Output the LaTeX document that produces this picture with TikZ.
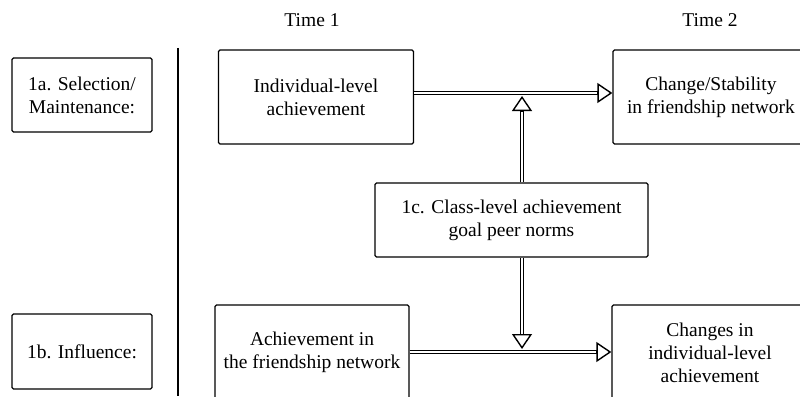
\documentclass[tikz,border=0pt]{standalone}
\usepackage{fontspec}
\setmainfont{Liberation Serif}
\usetikzlibrary{arrows.meta}
\begin{document}
\begin{tikzpicture}[
		x=1pt, y=-1pt,
		font=\fontsize{19.5}{23}\selectfont,
		box/.style={draw, line width=1.3pt, rounded corners=1.5pt, inner sep=0pt, align=center},
		dbl/.style={double, double distance=2.5pt, line width=1.2pt, shorten >=14pt},
		head/.style={line width=1.4pt, -{Triangle[open, length=15pt, width=20pt]}}
	]
	\useasboundingbox (0,0) rectangle (800,396);
	\clip (0,0) rectangle (800,396);
	% headings
	\node (t1) at (312,20) {Time 1};
	\node (t2) at (710,20) {Time 2};
	% row labels
	\node[box, minimum width=140pt, minimum height=74pt] (sel) at (82,95) {1a. Selection/\\Maintenance:};
	\node[box, minimum width=140pt, minimum height=75pt] (inf) at (82,351.5) {1b. Influence:};
	\coordinate (sep1) at (178,48);
	\coordinate (sep2) at (178,396);
	\draw[line width=1.3pt] (sep1) -- (sep2);
	% boxes
	\node[box, minimum width=195pt, minimum height=94pt] (ind) at (316,97) {Individual-level\\achievement};
	\node[box, minimum width=196pt, minimum height=94pt] (chg) at (711,97) {Change/Stability\\in friendship network};
	\node[box, minimum width=273pt, minimum height=74pt] (norm) at (511.5,220) {1c. Class-level achievement\\goal peer norms};
	\node[box, minimum width=194pt, minimum height=94pt] (ach) at (312,352) {Achievement in\\the friendship network};
	\node[box, minimum width=196pt, minimum height=96pt] (chs) at (710,353) {Changes in\\individual-level\\achievement};
	% arrows
	\coordinate (up) at (522,96);
	\coordinate (down) at (522,349);
	\draw[dbl] (ind.east |- 0,93) -- (chg.west |- 0,93);
	\draw[head] (chg.west |- 0,93) ++(-15,0) -- (chg.west |- 0,93);
	\draw[dbl] (ach.east) -- (chs.west |- ach.east);
	\draw[head] (chs.west |- ach.east) ++(-15,0) -- (chs.west |- ach.east);
	\draw[dbl] (norm.north -| up) -- (up);
	\draw[head] (up) ++(0,15) -- (up);
	\draw[dbl] (norm.south -| down) -- (down);
	\draw[head] (down) ++(0,-15) -- (down);
\end{tikzpicture}
\end{document}
